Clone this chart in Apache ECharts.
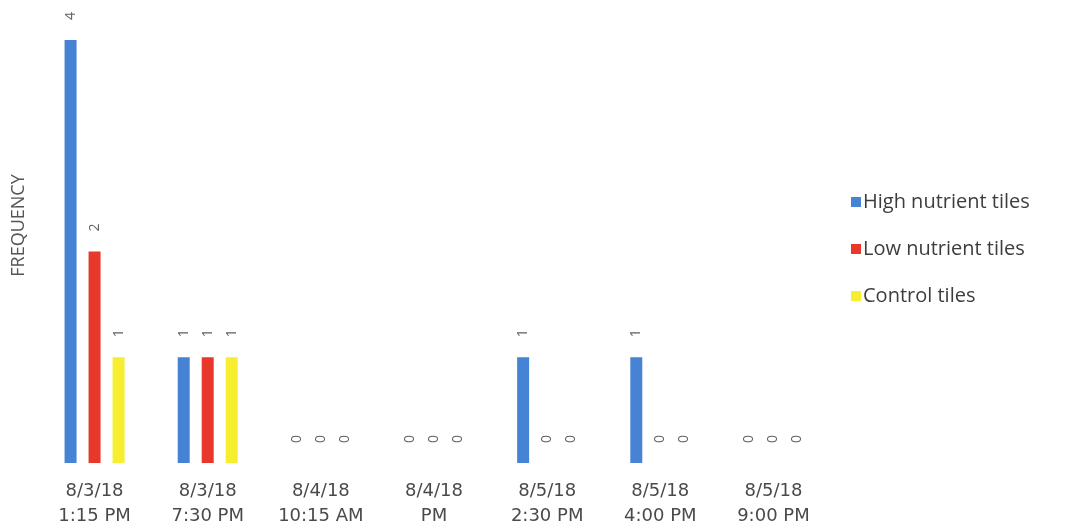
<!DOCTYPE html>
<html>
<head>
<meta charset="utf-8">
<script src="https://cdn.jsdelivr.net/npm/echarts@6/dist/echarts.min.js"></script>
<style>
  html, body { margin: 0; padding: 0; background: #fff; }
  #chart { width: 1075px; height: 529px; }
</style>
</head>
<body>
<div id="chart"></div>
<script>
// Observation times (two-line axis labels)
const categories = [
  '8/3/18\n1:15 PM',
  '8/3/18\n7:30 PM',
  '8/4/18\n10:15 AM',
  '8/4/18\nPM',
  '8/5/18\n2:30 PM',
  '8/5/18\n4:00 PM',
  '8/5/18\n9:00 PM'
];

const seriesNames = ['High nutrient tiles', 'Low nutrient tiles', 'Control tiles'];
const highNutrient = [4, 1, 0, 0, 1, 1, 0];
const lowNutrient  = [2, 1, 0, 0, 0, 0, 0];
const controlTiles = [1, 1, 0, 0, 0, 0, 0];
const seriesColors = ['#4683D4', '#E8382C', '#F6EE2E'];

const chart = echarts.init(document.getElementById('chart'), null, { renderer: 'canvas' });

function makeSeries(name, data, color) {
  return {
    name: name,
    type: 'bar',
    data: data,
    barWidth: 12,
    barGap: '100%',
    itemStyle: { color: color },
    label: {
      show: true,
      position: 'top',
      distance: 24,
      rotate: 90,
      align: 'center',
      verticalAlign: 'middle',
      color: '#5f5f5f',
      fontFamily: 'Open Sans',
      fontSize: 14
    }
  };
}

chart.setOption({
  animation: false,
  backgroundColor: '#ffffff',
  grid: { left: 38, right: 245, top: 40, bottom: 66, containLabel: false, outerBoundsMode: 'none' },
  legend: {
    orient: 'vertical',
    left: 846,
    top: 187,
    itemWidth: 10,
    itemHeight: 10,
    itemGap: 27,
    icon: 'rect',
    textStyle: { fontFamily: 'Open Sans', fontSize: 20, color: '#3d3d3d', padding: [0, 0, 0, -3] },
    data: seriesNames
  },
  xAxis: {
    type: 'category',
    data: categories,
    axisLine: { show: false },
    axisTick: { show: false },
    axisLabel: {
      margin: 16,
      interval: 0,
      fontFamily: 'DejaVu Sans',
      fontSize: 18,
      lineHeight: 25,
      color: '#4a4a4a'
    }
  },
  yAxis: {
    type: 'value',
    min: 0,
    max: 4,
    axisLine: { show: false },
    axisTick: { show: false },
    axisLabel: { show: false },
    splitLine: { show: false },
    name: 'FREQUENCY',
    nameLocation: 'middle',
    nameGap: 10,
    nameTextStyle: {
      fontFamily: 'Open Sans',
      fontSize: 18,
      color: '#555555',
      padding: [0, 0, 0, 52]
    }
  },
  series: [
    makeSeries(seriesNames[0], highNutrient, seriesColors[0]),
    makeSeries(seriesNames[1], lowNutrient, seriesColors[1]),
    makeSeries(seriesNames[2], controlTiles, seriesColors[2])
  ]
});
</script>
</body>
</html>
